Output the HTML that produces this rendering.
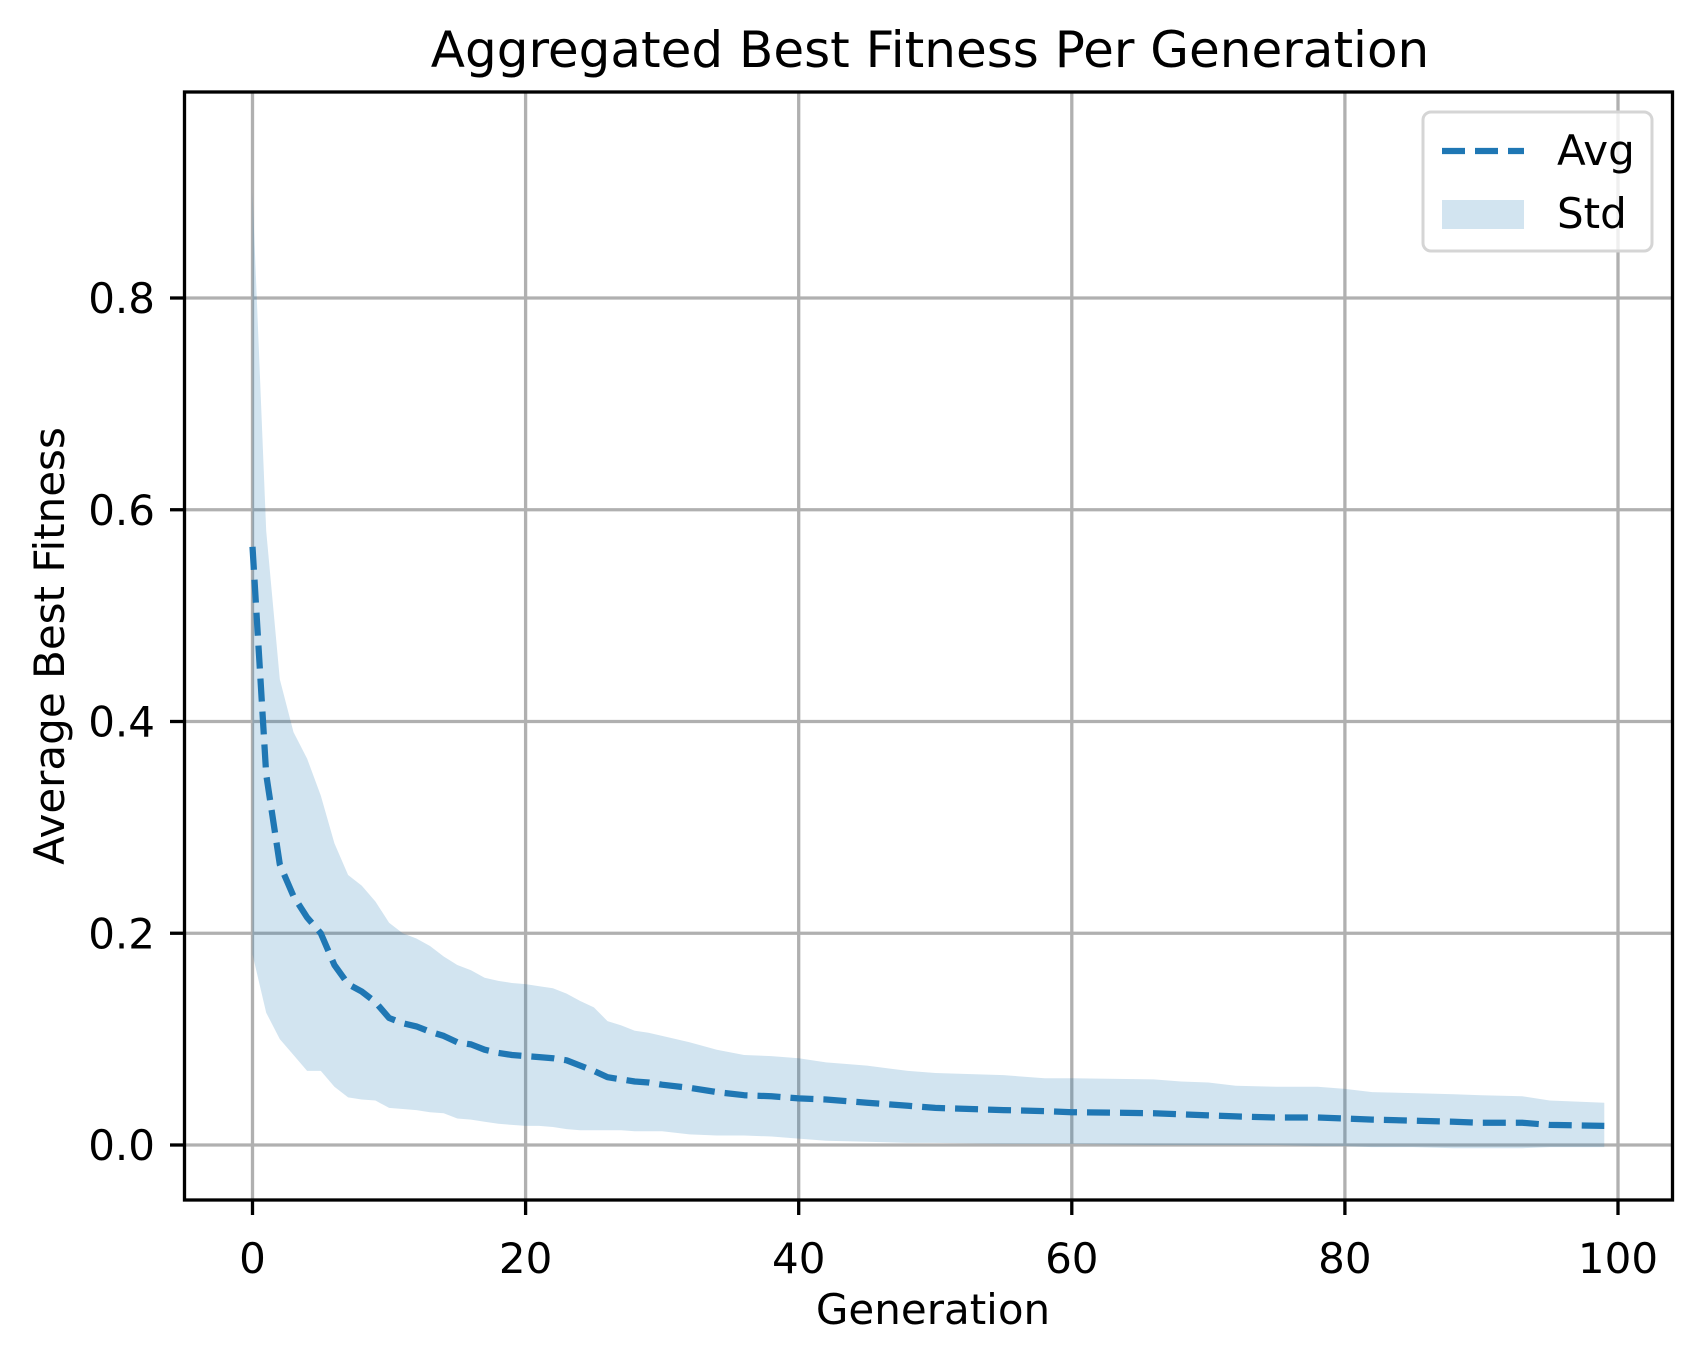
<!DOCTYPE html>
<html><head><meta charset="utf-8"><style>
html,body{margin:0;padding:0;background:#fff;}
svg{display:block;font-family:"DejaVu Sans","Liberation Sans",sans-serif;}
</style></head><body>
<svg id="chart" width="1702" height="1361" viewBox="0 0 1702 1361" xmlns="http://www.w3.org/2000/svg">
<rect width="1702" height="1361" fill="#fff"/>
<g id="grid"></g>
<g id="plot"></g>
<rect x="184.5" y="92" width="1488" height="1108" fill="none" stroke="#000" stroke-width="3.3"/>
<g id="ticks"></g>
<text x="930" y="67" font-size="50" text-anchor="middle">Aggregated Best Fitness Per Generation</text>
<text x="933" y="1324" font-size="42" text-anchor="middle">Generation</text>
<text x="0" y="0" font-size="42" text-anchor="middle" transform="translate(64,646) rotate(-90)">Average Best Fitness</text>
<g transform="translate(-8,0)">
<rect x="1431" y="112" width="229" height="139" rx="8" fill="#fff" fill-opacity="0.8" stroke="#d5d5d5" stroke-width="3"/>
<line x1="1450" y1="151" x2="1532" y2="151" stroke="#1f77b4" stroke-width="6.25" stroke-dasharray="23 10"/>
<text x="1565" y="165" font-size="42">Avg</text>
<rect x="1450" y="200" width="82" height="29" fill="#1f77b4" fill-opacity="0.2"/>
<text x="1565" y="228" font-size="42">Std</text>
</g>
</svg>
<script>
const gens = [0,1,2,3,4,5,6,7,8,9,10,11,12,13,14,15,16,17,18,19,20,21,22,23,24,25,26,27,28,29,30,32,34,36,38,40,42,45,48,50,55,58,60,66,68,70,72,75,78,80,82,85,88,90,93,95,99];
const avgValues = [0.565,0.35,0.265,0.235,0.215,0.2,0.17,0.152,0.145,0.135,0.12,0.115,0.112,0.107,0.103,0.097,0.095,0.09,0.087,0.085,0.084,0.083,0.082,0.08,0.075,0.07,0.064,0.062,0.06,0.059,0.057,0.054,0.05,0.047,0.046,0.044,0.043,0.04,0.037,0.035,0.033,0.032,0.031,0.03,0.029,0.028,0.027,0.026,0.026,0.025,0.024,0.023,0.022,0.021,0.021,0.019,0.018];
const upperValues = [0.9,0.58,0.44,0.39,0.365,0.33,0.285,0.255,0.245,0.23,0.21,0.2,0.195,0.188,0.178,0.17,0.165,0.158,0.155,0.153,0.152,0.15,0.148,0.143,0.136,0.13,0.117,0.113,0.108,0.106,0.103,0.097,0.09,0.085,0.084,0.082,0.078,0.075,0.07,0.068,0.066,0.063,0.063,0.062,0.06,0.059,0.056,0.055,0.055,0.053,0.05,0.049,0.048,0.047,0.046,0.042,0.04];
const lowerValues = [0.18,0.125,0.1,0.085,0.07,0.07,0.055,0.045,0.043,0.042,0.035,0.034,0.033,0.031,0.03,0.025,0.024,0.022,0.02,0.019,0.018,0.018,0.017,0.015,0.014,0.014,0.014,0.014,0.013,0.013,0.013,0.01,0.009,0.009,0.008,0.006,0.004,0.003,0.002,0.002,0.001,0.001,0.001,0.0,0.0,0.0,0.0,0.0,-0.001,-0.001,-0.002,-0.002,-0.003,-0.003,-0.003,-0.002,-0.002];
const xTicks = [0,20,40,60,80,100];
const yTicks = [0.0,0.2,0.4,0.6,0.8];
const yTickLabels = ["0.0","0.2","0.4","0.6","0.8"];

const NS = "http://www.w3.org/2000/svg";
function xs(v){ return 252.5 + v * (1618 - 252.5) / 100; }
function ys(v){ return 1145 - v * (1145 - 298) / 0.8; }
function mk(tag, attrs, parent){ const e = document.createElementNS(NS, tag); for (const k in attrs) e.setAttribute(k, attrs[k]); parent.appendChild(e); return e; }
const grid = document.getElementById('grid'), plot = document.getElementById('plot'), ticks = document.getElementById('ticks');

xTicks.forEach(t => {
  const g = mk('line', {x1: xs(t), x2: xs(t), y1: 92, y2: 1200, stroke: '#b0b0b0', 'stroke-width': 3.3}, grid);
  
  
  const tk = mk('line', {x1: xs(t), x2: xs(t), y1: 1200, y2: 1215, stroke: '#000', 'stroke-width': 3.3}, ticks);
  
  
  const tl = mk('text', {x: xs(t), y: 1273, 'font-size': 42, 'text-anchor': 'middle'}, ticks);
  tl.textContent = String(t);
  
  
});
yTicks.forEach((t, i) => {
  const g = mk('line', {x1: 184.5, x2: 1672.5, y1: ys(t), y2: ys(t), stroke: '#b0b0b0', 'stroke-width': 3.3}, grid);
  
  
  const tk = mk('line', {x1: 170, x2: 184.5, y1: ys(t), y2: ys(t), stroke: '#000', 'stroke-width': 3.3}, ticks);
  
  
  const tl = mk('text', {x: 155, y: ys(t) + 15, 'font-size': 42, 'text-anchor': 'end'}, ticks);
  tl.textContent = yTickLabels[i];
  
  
});

let d = '';
gens.forEach((g, i) => { d += (i ? 'L' : 'M') + xs(g).toFixed(1) + ',' + ys(upperValues[i]).toFixed(1); });
for (let i = gens.length - 1; i >= 0; i--) d += 'L' + xs(gens[i]).toFixed(1) + ',' + ys(lowerValues[i]).toFixed(1);
d += 'Z';
const band = mk('path', {d: d, fill: '#1f77b4', 'fill-opacity': 0.2, stroke: 'none'}, plot);



const pts = gens.map((g, i) => xs(g).toFixed(1) + ',' + ys(avgValues[i]).toFixed(1)).join(' ');
const line = mk('polyline', {points: pts, fill: 'none', stroke: '#1f77b4', 'stroke-width': 6.25, 'stroke-dasharray': '23 10', 'stroke-linejoin': 'round'}, plot);


</script>
</body></html>
